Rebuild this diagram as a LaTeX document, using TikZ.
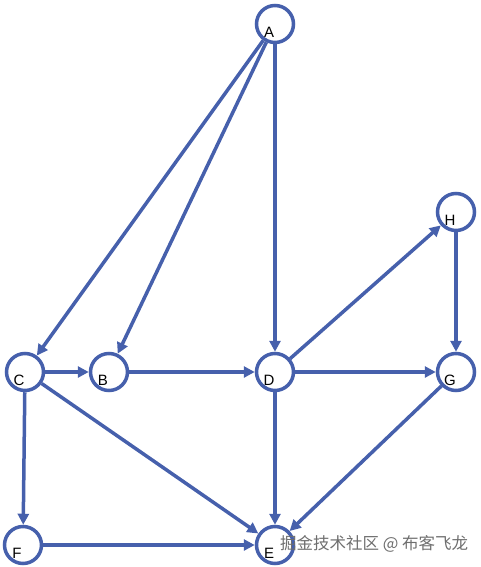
\documentclass[tikz,border=0pt]{standalone}
\usepackage{fontspec}
\setsansfont{Liberation Sans}
\newfontfamily\cjkfont{Noto Sans CJK SC}
\usetikzlibrary{
    arrows.meta,
    positioning
}
\definecolor{graphblue}{RGB}{70,96,172}
\definecolor{markgray}{RGB}{110,110,110}
\tikzset{
    % Vertex styles
    vertex/.style={
        circle,
        draw=graphblue,
        line width=3.5pt,
        minimum size=37pt,
        inner sep=0pt
    },
    vertex text/.style={
        font=\sffamily\fontsize{15}{18}\selectfont,
        xshift=-6pt,
        yshift=-8pt
    },
    % Arrow styles
    edge arrow/.style={
        -{Triangle[length=11pt,width=11pt]},
        line width=3.5pt,
        graphblue
    }
}

\begin{document}
\begin{tikzpicture}[x=1pt,y=-1pt]
    \useasboundingbox (0,0) rectangle (480,567);
    % vertices
    \node[vertex, label={[vertex text]center:A}] (A) at (275,24) {};
    \node[vertex, label={[vertex text]center:H}] (H) at (456,212) {};
    \node[vertex, label={[vertex text]center:C}] (C) at (25,372) {};
    \node[vertex, label={[vertex text]center:B}] (B) at (109,372) {};
    \node[vertex, label={[vertex text]center:D}] (D) at (275,372) {};
    \node[vertex, label={[vertex text]center:G}] (G) at (456,372) {};
    \node[vertex, label={[vertex text]center:F}] (F) at (23,545) {};
    \node[vertex, label={[vertex text]center:E}] (E) at (275,545) {};
    % edges
    \draw[edge arrow] (A) -- (C);
    \draw[edge arrow] (A) -- (B);
    \draw[edge arrow] (A) -- (D);
    \draw[edge arrow] (D) -- (H);
    \draw[edge arrow] (H) -- (G);
    \draw[edge arrow] (C) -- (B);
    \draw[edge arrow] (B) -- (D);
    \draw[edge arrow] (D) -- (G);
    \draw[edge arrow] (C) -- (F);
    \draw[edge arrow] (C) -- (E);
    \draw[edge arrow] (D) -- (E);
    \draw[edge arrow] (G) -- (E);
    \draw[edge arrow] (F) -- (E);
    % watermark
    \node[anchor=west, text=markgray, font=\cjkfont\fontsize{16.5}{19}\selectfont, inner sep=0pt] (mark) at (280,544) {掘金技术社区 @ 布客飞龙};
\end{tikzpicture}
\end{document}
